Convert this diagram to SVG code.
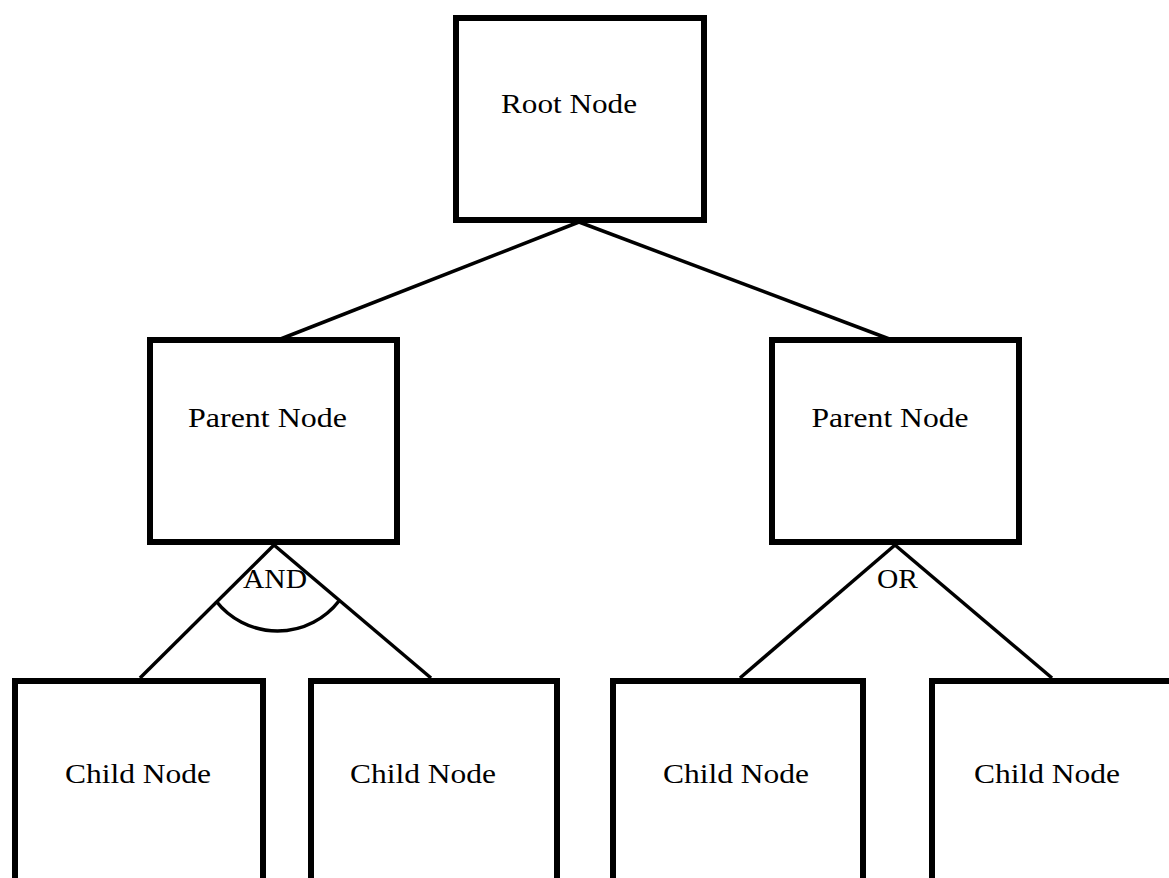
<svg xmlns="http://www.w3.org/2000/svg" width="1169" height="878" viewBox="0 0 1169 878">
<style>
.box{fill:#fff;stroke:#000;stroke-width:6}
.ln{fill:none;stroke:#000;stroke-width:3.5}
.t{font-family:"Liberation Serif","Times New Roman",serif;font-size:27px;fill:#000;text-anchor:middle}
</style>
<rect width="1169" height="878" fill="#fff"/>
<g id="connectors">
<line class="ln" x1="579" y1="222" x2="278" y2="340"/>
<line class="ln" x1="579" y1="222" x2="892" y2="340"/>
<line class="ln" x1="274" y1="545" x2="140" y2="678"/>
<line class="ln" x1="274" y1="545" x2="431" y2="678"/>
<path class="ln" d="M216,601 A78,78 0 0 0 339,601"/>
<line class="ln" x1="895" y1="545" x2="740" y2="678"/>
<line class="ln" x1="895" y1="545" x2="1052" y2="678"/>
</g>
<g id="root">
<rect class="box" x="456" y="18" width="248" height="202"/>
<text class="t" x="569" y="113" textLength="136" lengthAdjust="spacingAndGlyphs">Root Node</text>
</g>
<g id="parent-left">
<rect class="box" x="150" y="340" width="247" height="202"/>
<text class="t" x="267.5" y="427" textLength="159" lengthAdjust="spacingAndGlyphs">Parent Node</text>
</g>
<g id="parent-right">
<rect class="box" x="772" y="340" width="247" height="202"/>
<text class="t" x="890" y="427" textLength="157" lengthAdjust="spacingAndGlyphs">Parent Node</text>
</g>
<g id="label-and">
<text class="t" x="275" y="588" textLength="64" lengthAdjust="spacingAndGlyphs">AND</text>
</g>
<g id="label-or">
<text class="t" x="897.5" y="588" textLength="41" lengthAdjust="spacingAndGlyphs">OR</text>
</g>
<g id="child-1">
<rect class="box" x="15" y="681" width="248" height="220"/>
<text class="t" x="138" y="783" textLength="146" lengthAdjust="spacingAndGlyphs">Child Node</text>
</g>
<g id="child-2">
<rect class="box" x="311" y="681" width="246" height="220"/>
<text class="t" x="423" y="783" textLength="146" lengthAdjust="spacingAndGlyphs">Child Node</text>
</g>
<g id="child-3">
<rect class="box" x="613" y="681" width="250" height="220"/>
<text class="t" x="736" y="783" textLength="146" lengthAdjust="spacingAndGlyphs">Child Node</text>
</g>
<g id="child-4">
<rect class="box" x="932" y="681" width="260" height="220"/>
<text class="t" x="1047" y="783" textLength="146" lengthAdjust="spacingAndGlyphs">Child Node</text>
</g>
</svg>
